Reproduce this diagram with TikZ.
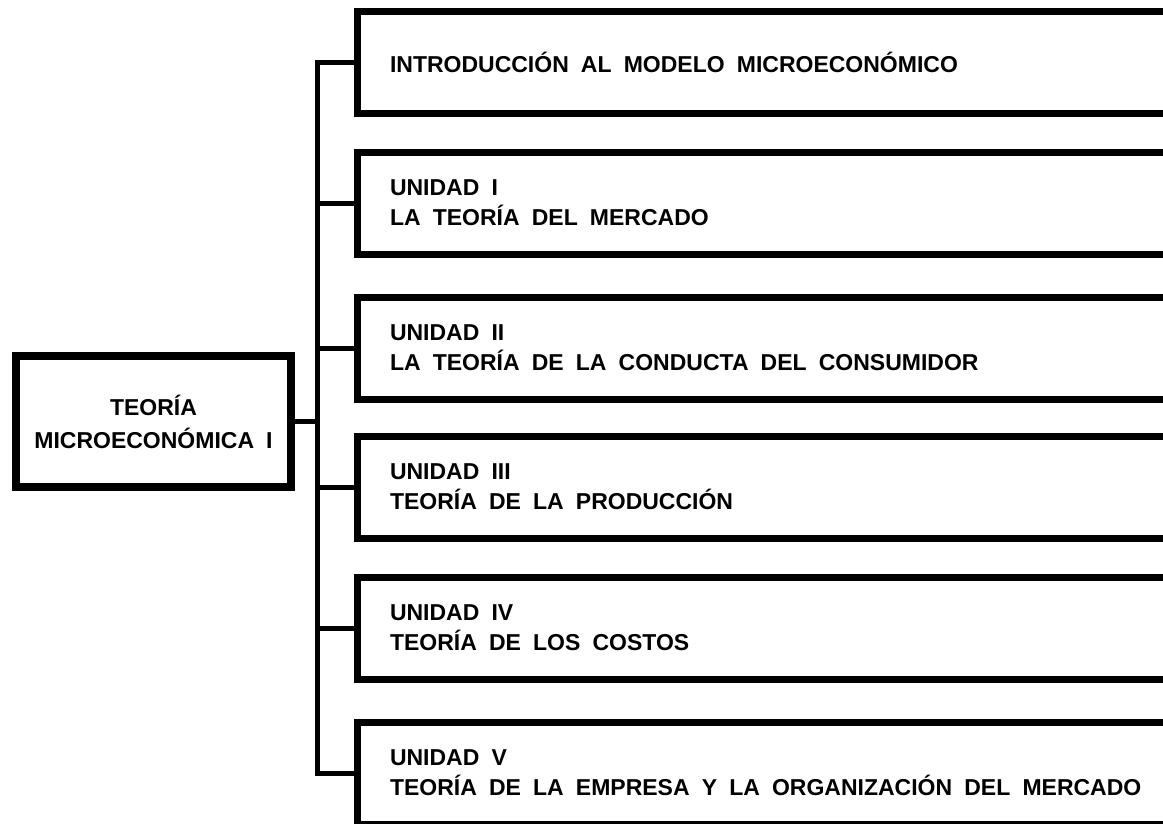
\documentclass[tikz,border=0pt]{standalone}
\usepackage{fontspec}
\setmainfont{Liberation Sans}[WordSpace=1.9]
\usetikzlibrary{positioning,calc}

\begin{document}
\begin{tikzpicture}[x=1pt, y=-1pt, line join=miter,
  mainBox/.style={draw, line width=8pt, minimum width=275pt, minimum height=131pt,
    inner sep=0pt, align=center, font=\bfseries\fontsize{23}{33}\selectfont},
  unitBox/.style={draw, line width=7pt, anchor=west, minimum height=102pt,
    text width=743.5pt, inner xsep=33pt, inner ysep=0pt, align=flush left,
    font=\bfseries\fontsize{23}{30}\selectfont},
  link/.style={line width=5pt}]

% --- layout parameters (pixels of the page) ---
\def\trunkX{317.5}
\def\boxX{353.5}

\useasboundingbox (0,0) rectangle (1163,823);

% ------------------ LEFT: course ------------------
\node[mainBox] (teoria) at (153.5,421.5) {TEORÍA\\MICROECONÓMICA I};

% ------------------ RIGHT: units ------------------
\node[unitBox] (intro) at (\boxX,62.5) {INTRODUCCIÓN AL MODELO MICROECONÓMICO};
\node[unitBox] (unidadI) at (\boxX,203) {UNIDAD I\\LA TEORÍA DEL MERCADO};
\node[unitBox] (unidadII) at (\boxX,348) {UNIDAD II\\LA TEORÍA DE LA CONDUCTA DEL CONSUMIDOR};
\node[unitBox] (unidadIII) at (\boxX,487) {UNIDAD III\\TEORÍA DE LA PRODUCCIÓN};
\node[unitBox] (unidadIV) at (\boxX,628) {UNIDAD IV\\TEORÍA DE LOS COSTOS};
\node[unitBox] (unidadV) at (\boxX,773)
  {UNIDAD V\\\mbox{TEORÍA DE LA EMPRESA Y LA ORGANIZACIÓN DEL MERCADO}};

% bracket joining the course to its units
\coordinate (trunk) at (\trunkX,0);
\draw[link] (intro.west) -| (unidadV.west -| trunk) -- (unidadV.west);
\draw[link] (unidadI.west) -- (unidadI.west -| trunk);
\draw[link] (unidadII.west) -- (unidadII.west -| trunk);
\draw[link] (unidadIII.west) -- (unidadIII.west -| trunk);
\draw[link] (unidadIV.west) -- (unidadIV.west -| trunk);
\draw[link] (teoria.east) -- (teoria.east -| trunk);

\end{tikzpicture}
\end{document}
